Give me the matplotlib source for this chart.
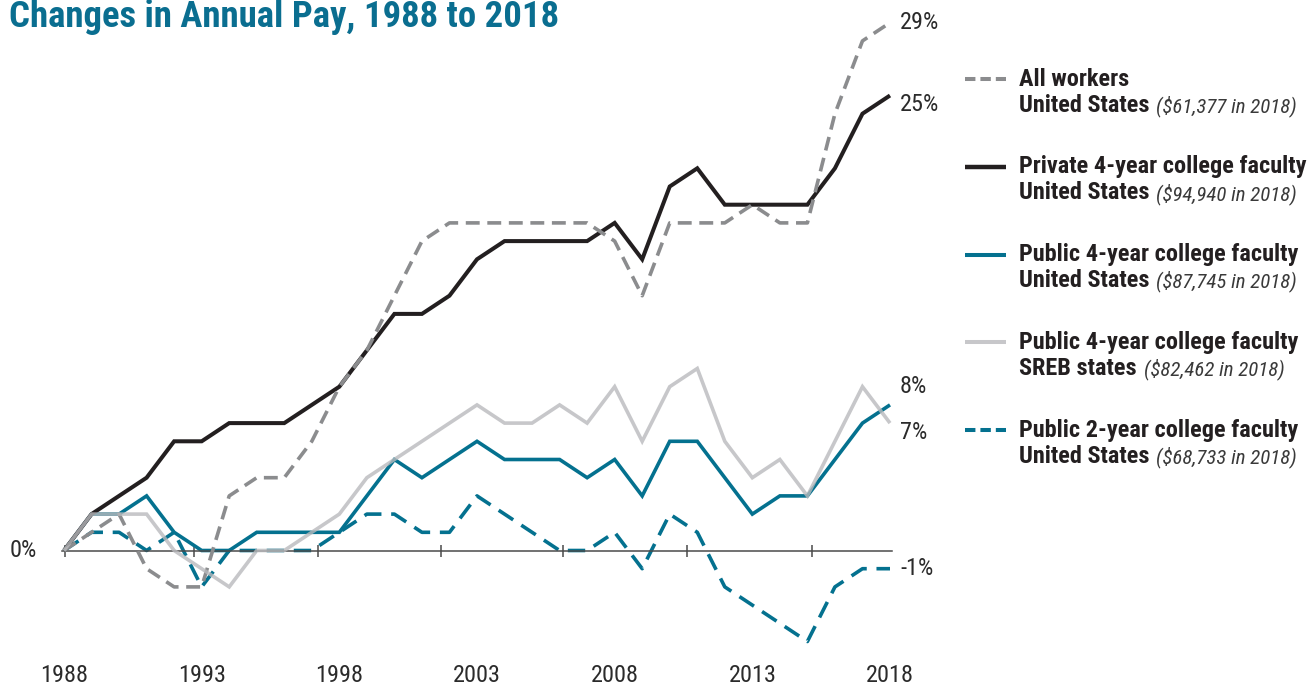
import matplotlib
matplotlib.use("Agg")
import matplotlib.pyplot as plt
from matplotlib import font_manager


# values, percent change since 1988
YEARS = list(range(1988, 2019))

ALL_WORKERS = [0, 1, 2, -1, -2, -2, 3, 4, 4, 6, 9, 11, 14, 17, 18, 18,
               18, 18, 18, 18, 17, 14, 18, 18, 18, 19, 18, 18, 24, 28, 29]
PRIVATE_4YR = [0, 2, 3, 4, 6, 6, 7, 7, 7, 8, 9, 11, 13, 13, 14, 16,
               17, 17, 17, 17, 18, 16, 20, 21, 19, 19, 19, 19, 21, 24, 25]
PUBLIC_4YR_US = [0, 2, 2, 3, 1, 0, 0, 1, 1, 1, 1, 3, 5, 4, 5, 6,
                 5, 5, 5, 4, 5, 3, 6, 6, 4, 2, 3, 3, 5, 7, 8]
PUBLIC_4YR_SREB = [0, 2, 2, 2, 0, -1, -2, 0, 0, 1, 2, 4, 5, 6, 7, 8,
                   7, 7, 8, 7, 9, 6, 9, 10, 6, 4, 5, 3, 6, 9, 7]
PUBLIC_2YR_US = [0, 1, 1, 0, 1, -2, 0, 0, 0, 0, 1, 2, 2, 1, 1, 3,
                 2, 1, 0, 0, 1, -1, 2, 1, -2, -3, -4, -5, -2, -1, -1]

YEAR_LABELS = [1988, 1993, 1998, 2003, 2008, 2013, 2018]
# the tick marks in the original do not sit on the labelled years
TICK_MARKS = [1988.04, 1992.72, 1997.23, 2001.7, 2006.13, 2010.63, 2015.17]

LEGEND_NAMES = [
    "All workers",
    "Private 4-year college faculty",
    "Public 4-year college faculty",
    "Public 4-year college faculty",
    "Public 2-year college faculty",
]
LEGEND_REGIONS = ["United States", "United States", "United States",
                  "SREB states", "United States"]
LEGEND_PAY = ["($61,377 in 2018)", "($94,940 in 2018)", "($87,745 in 2018)",
              "($82,462 in 2018)", "($68,733 in 2018)"]

TITLE = "Changes in Annual Pay, 1988 to 2018"

W, H = 1308, 686
PX_PER_YEAR = 27.53
PX_PER_PCT = 18.2
ZERO_Y = 550.5

TEAL = "#0a6e90"
BLUE = "#04718f"
DARK = "#231f20"
GRAY = "#8b8c8e"
LIGHT = "#b9babd"
TEXT = "#2b2b2b"


def pick_font(candidates):
    names = {f.name for f in font_manager.fontManager.ttflist}
    for name in candidates:
        if name in names:
            return name
    return "DejaVu Sans"


NARROW = pick_font(["Roboto Condensed", "Liberation Sans Narrow", "Liberation Sans"])

plt.rcParams["font.family"] = [NARROW, "DejaVu Sans"]
plt.rcParams["lines.scale_dashes"] = False

fig = plt.figure(figsize=(W / 100, H / 100), dpi=100)

# main axes, placed so 1988 sits at x=64px and 0% at y=550px
x_pad = 2 / PX_PER_YEAR
y_lo, y_hi = -6, 30
bottom_px = ZERO_Y - y_lo * PX_PER_PCT
top_px = ZERO_Y - y_hi * PX_PER_PCT
ax = fig.add_axes([62 / W, (H - bottom_px) / H, 830 / W, (bottom_px - top_px) / H])
ax.set_xlim(1988 - x_pad, 2018 + x_pad)
ax.set_ylim(y_lo, y_hi)
ax.patch.set_alpha(0)

for side in ["top", "right", "left"]:
    ax.spines[side].set_visible(False)
ax.spines["bottom"].set_position(("data", 0))
ax.spines["bottom"].set_color("#4a4a4a")
ax.spines["bottom"].set_linewidth(1.1)
ax.set_yticks([])

ax.set_xticks(YEAR_LABELS)
ax.set_xticklabels([str(y) for y in YEAR_LABELS])
ax.set_xticks(TICK_MARKS, minor=True)
ax.tick_params(axis="x", which="major", length=0, pad=82, labelsize=17.5, labelcolor=TEXT)
ax.tick_params(axis="x", which="minor", direction="inout", length=9, width=1.1, color="#4a4a4a")

series = [
    dict(y=ALL_WORKERS, color=GRAY, lw=2.6, dashes=(10.0, 5.5), alpha=1.0, z=4, dy=0.0),
    dict(y=PRIVATE_4YR, color=DARK, lw=2.9, dashes=None, alpha=1.0, z=3, dy=-0.5),
    dict(y=PUBLIC_4YR_US, color=BLUE, lw=2.6, dashes=None, alpha=1.0, z=2, dy=1.0),
    dict(y=PUBLIC_4YR_SREB, color=LIGHT, lw=2.6, dashes=None, alpha=0.8, z=5, dy=-0.5),
    dict(y=PUBLIC_2YR_US, color=BLUE, lw=2.6, dashes=(12.5, 7.0), alpha=1.0, z=1, dy=0.0),
]

for s in series:
    line, = ax.plot(YEARS, s["y"], color=s["color"], lw=s["lw"], alpha=s["alpha"],
                    zorder=s["z"], clip_on=False, solid_joinstyle="miter",
                    solid_capstyle="butt")
    if s["dashes"]:
        line.set_dashes(s["dashes"])
    # end-of-line value labels
    ax.text(YEARS[-1] + 10 / PX_PER_YEAR, s["y"][-1] + s["dy"], f"{s['y'][-1]}%",
            fontsize=17.5, color=TEXT, ha="left", va="center")

# overlay in pixel units for title and legend
ov = fig.add_axes([0, 0, 1, 1])
ov.set_xlim(0, W)
ov.set_ylim(H, 0)
ov.axis("off")

ov.text(9, 17, TITLE, fontsize=26.5, fontweight="bold", color=TEAL, ha="left", va="center")
ov.text(10, ZERO_Y, "0%", fontsize=17.5, color=TEXT, ha="left", va="center")

region_texts = []
for i, s in enumerate(series):
    y1 = 79 + 87.8 * i
    y2 = y1 + 26
    sample, = ov.plot([965, 1006], [y1, y1], color=s["color"], lw=s["lw"] + 0.3,
                      alpha=s["alpha"], solid_capstyle="butt")
    if s["dashes"]:
        sample.set_dashes((7.5, 3.6))
    ov.text(1019, y1, LEGEND_NAMES[i], fontsize=17.5, fontweight="bold", color=DARK,
            ha="left", va="center")
    t = ov.text(1019, y2, LEGEND_REGIONS[i], fontsize=17.5, fontweight="bold", color=DARK,
                ha="left", va="center")
    region_texts.append((t, y2))

fig.canvas.draw()
renderer = fig.canvas.get_renderer()
for i, (t, y2) in enumerate(region_texts):
    bb = t.get_window_extent(renderer)
    ov.text(bb.x1 + 7, y2 + 1, LEGEND_PAY[i], fontsize=15, style="italic",
            color="#3a3a3a", ha="left", va="center")

fig.savefig("out.png", dpi=100)
